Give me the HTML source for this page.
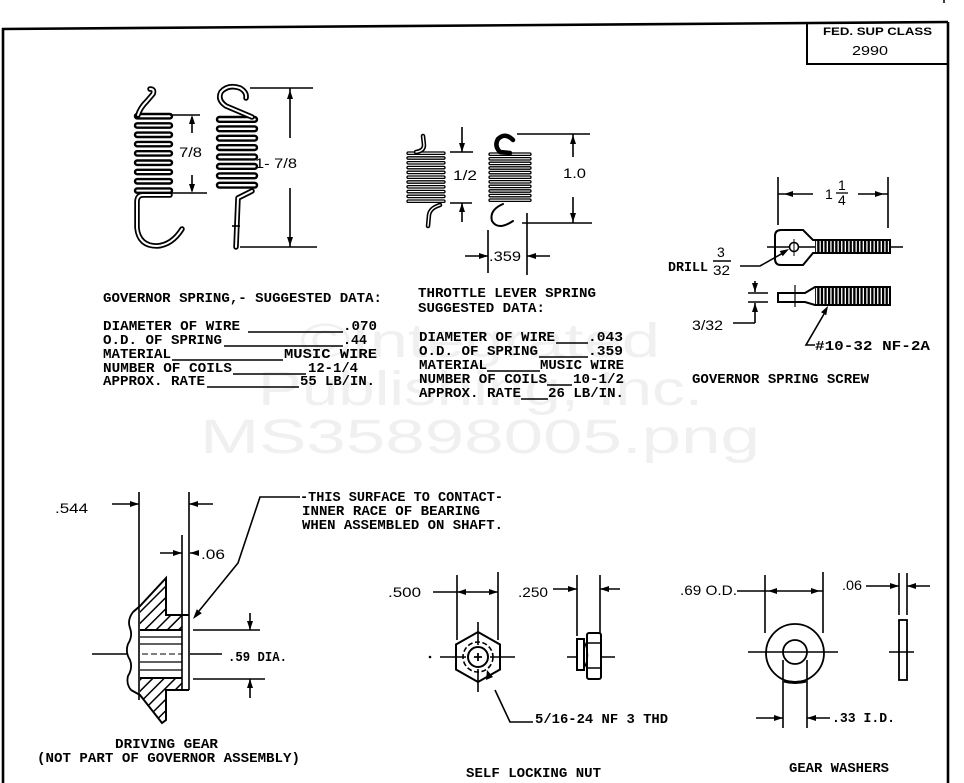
<!DOCTYPE html>
<html><head><meta charset="utf-8"><style>
html,body{margin:0;padding:0;background:#fff}
svg{display:block}
.m{font-family:"Liberation Mono",monospace;font-weight:bold;font-size:14px;fill:#000}
.s{font-family:"Liberation Sans",sans-serif;font-size:14px;fill:#000}
.w{font-family:"Liberation Sans",sans-serif;font-size:48px;fill:#f0f0f0}
</style></head><body>
<svg width="964" height="783" viewBox="0 0 964 783" xmlns="http://www.w3.org/2000/svg">
<defs>
<pattern id="hatch" width="8" height="8" patternUnits="userSpaceOnUse" patternTransform="rotate(-45)"><rect x="0" y="3" width="8" height="1.5" fill="#000"/></pattern>
<pattern id="thr" width="3.6" height="40" patternUnits="userSpaceOnUse"><rect x="0" y="0" width="2.3" height="40" fill="#000"/></pattern>
</defs>
<rect width="964" height="783" fill="#fff"/>

<!-- watermark -->
<text class="w" x="300" y="357" textLength="360" lengthAdjust="spacingAndGlyphs">©Integrated</text>
<text class="w" x="258" y="405" textLength="445" lengthAdjust="spacingAndGlyphs">Publishing, Inc.</text>
<text class="w" x="200" y="453" textLength="560" lengthAdjust="spacingAndGlyphs">MS35898005.png</text>

<!-- border -->
<g stroke="#000" fill="none">
<path d="M2,29 L948,22" stroke-width="2.6"/>
<path d="M3,28 V783" stroke-width="2.6"/>
<path d="M948,22 V783" stroke-width="2.6"/>
<path d="M807,23 V64 H948" stroke-width="2"/>
<path d="M944,0 V3" stroke-width="1.5"/>
</g>
<text x="823" y="35" font-family="Liberation Sans,sans-serif" font-weight="bold" font-size="11" textLength="109" lengthAdjust="spacingAndGlyphs">FED. SUP CLASS</text>
<text x="852" y="55" font-family="Liberation Sans,sans-serif" font-size="13" textLength="36" lengthAdjust="spacingAndGlyphs">2990</text>

<!-- ===== GOVERNOR SPRINGS ===== -->
<g stroke="#000" fill="#fff" stroke-width="2.4">
<rect x="135" y="114" width="37" height="4.4" rx="2.2"/>
<rect x="135" y="123.3" width="37" height="4.4" rx="2.2"/>
<rect x="135" y="132.6" width="37" height="4.4" rx="2.2"/>
<rect x="135" y="141.9" width="37" height="4.4" rx="2.2"/>
<rect x="135" y="151.2" width="37" height="4.4" rx="2.2"/>
<rect x="135" y="160.5" width="37" height="4.4" rx="2.2"/>
<rect x="135" y="169.8" width="37" height="4.4" rx="2.2"/>
<rect x="135" y="179.1" width="37" height="4.4" rx="2.2"/>
<rect x="135" y="188.4" width="37" height="4.4" rx="2.2"/>

<rect x="217" y="117" width="40" height="4.8" rx="2.4"/>
<rect x="217" y="126.4" width="40" height="4.8" rx="2.4"/>
<rect x="217" y="135.8" width="40" height="4.8" rx="2.4"/>
<rect x="217" y="145.2" width="40" height="4.8" rx="2.4"/>
<rect x="217" y="154.6" width="40" height="4.8" rx="2.4"/>
<rect x="217" y="164" width="40" height="4.8" rx="2.4"/>
<rect x="217" y="173.4" width="40" height="4.8" rx="2.4"/>
<rect x="217" y="182.8" width="40" height="4.8" rx="2.4"/>
</g>
<!-- wires (outlined) -->
<g fill="none" stroke-linecap="round" stroke-linejoin="round">
<g stroke="#000" stroke-width="5.5">
<path d="M138,115 Q140,108 147,101 L153,94 Q155,89 150,89"/>
<path d="M170,195 L143,195 Q137,195 137,202 L137,228 Q139,246 157,246 Q172,245 182,229"/>
<path d="M252,117 L226,106 Q217,100 221,92 Q228,84 240,88 Q247,92 246,98"/>
<path d="M252,191 L238,198 L236,247"/>
</g>
<g stroke="#fff" stroke-width="2">
<path d="M138,115 Q140,108 147,101 L153,94 Q155,89 150,89"/>
<path d="M170,195 L143,195 Q137,195 137,202 L137,228 Q139,246 157,246 Q172,245 182,229"/>
<path d="M252,117 L226,106 Q217,100 221,92 Q228,84 240,88 Q247,92 246,98"/>
<path d="M252,191 L238,198 L236,247"/>
</g>
</g>
<g stroke="#000" fill="none" stroke-width="1.6">
<path d="M170,115 H200 M170,193 H207 M192,117 V133 M192,175 V191"/>
<path d="M250,88 H313 M240,247 H317 M290,88 V138 M290,188 V247"/>
<path d="M232,226 H240"/>
</g>
<g fill="#000">
<polygon points="192,115 189,124 195,124"/>
<polygon points="192,193 189,184 195,184"/>
<polygon points="290,90 287,99 293,99"/>
<polygon points="290,246 287,237 293,237"/>
</g>
<text class="s" x="179" y="157" textLength="23" lengthAdjust="spacingAndGlyphs">7/8</text>
<text class="s" x="255" y="168" textLength="42" lengthAdjust="spacingAndGlyphs">1- 7/8</text>

<!-- governor text -->
<text class="m" x="103" y="302" textLength="279" lengthAdjust="spacingAndGlyphs">GOVERNOR SPRING,- SUGGESTED DATA:</text>
<text class="m" x="103" y="330" textLength="137" lengthAdjust="spacingAndGlyphs">DIAMETER OF WIRE</text>
<text class="m" x="343" y="330" textLength="34" lengthAdjust="spacingAndGlyphs">.070</text>
<text class="m" x="103" y="344" textLength="119" lengthAdjust="spacingAndGlyphs">O.D. OF SPRING</text>
<text class="m" x="343" y="344" textLength="24" lengthAdjust="spacingAndGlyphs">.44</text>
<text class="m" x="103" y="358" textLength="68" lengthAdjust="spacingAndGlyphs">MATERIAL</text>
<text class="m" x="284" y="358" textLength="93" lengthAdjust="spacingAndGlyphs">MUSIC  WIRE</text>
<text class="m" x="103" y="372" textLength="129" lengthAdjust="spacingAndGlyphs">NUMBER OF COILS</text>
<text class="m" x="308" y="372" textLength="50" lengthAdjust="spacingAndGlyphs">12-1/4</text>
<text class="m" x="103" y="385" textLength="102" lengthAdjust="spacingAndGlyphs">APPROX. RATE</text>
<text class="m" x="300" y="385" textLength="75" lengthAdjust="spacingAndGlyphs">55 LB/IN.</text>
<g stroke="#000" stroke-width="1.4">
<path d="M248,332 H343 M224,346 H343 M172,360 H283 M233,374 H306 M207,387 H299"/>
</g>

<!-- ===== THROTTLE SPRINGS ===== -->
<g stroke="#000" fill="#fff" stroke-width="1.3">
<rect x="407" y="152" width="38" height="2.4" rx="1.2"/>
<rect x="407" y="156.8" width="38" height="2.4" rx="1.2"/>
<rect x="407" y="161.6" width="38" height="2.4" rx="1.2"/>
<rect x="407" y="166.4" width="38" height="2.4" rx="1.2"/>
<rect x="407" y="171.2" width="38" height="2.4" rx="1.2"/>
<rect x="407" y="176" width="38" height="2.4" rx="1.2"/>
<rect x="407" y="180.8" width="38" height="2.4" rx="1.2"/>
<rect x="407" y="185.6" width="38" height="2.4" rx="1.2"/>
<rect x="407" y="190.4" width="38" height="2.4" rx="1.2"/>
<rect x="407" y="195.2" width="38" height="2.4" rx="1.2"/>
<rect x="407" y="200" width="38" height="2.4" rx="1.2"/>

<rect x="489" y="153" width="42" height="2.4" rx="1.2"/>
<rect x="489" y="157.6" width="42" height="2.4" rx="1.2"/>
<rect x="489" y="162.2" width="42" height="2.4" rx="1.2"/>
<rect x="489" y="166.8" width="42" height="2.4" rx="1.2"/>
<rect x="489" y="171.4" width="42" height="2.4" rx="1.2"/>
<rect x="489" y="176" width="42" height="2.4" rx="1.2"/>
<rect x="489" y="180.6" width="42" height="2.4" rx="1.2"/>
<rect x="489" y="185.2" width="42" height="2.4" rx="1.2"/>
<rect x="489" y="189.8" width="42" height="2.4" rx="1.2"/>
<rect x="489" y="194.4" width="42" height="2.4" rx="1.2"/>
<rect x="489" y="199" width="42" height="2.4" rx="1.2"/>
</g>
<g fill="none" stroke-linecap="round" stroke-linejoin="round">
<g stroke="#000" stroke-width="4.5">
<path d="M416,152 Q424,151 424,145 L423,136"/>
<path d="M440,205 Q430,208 429,215 L428,226"/>
<path d="M513,140 Q505,132 498,139 Q494,146 500,152 L510,153"/>
</g>
<g stroke="#fff" stroke-width="1.4">
<path d="M416,152 Q424,151 424,145 L423,136"/>
<path d="M440,205 Q430,208 429,215 L428,226"/>
</g>
<path d="M503,204 Q489,210 492,221 Q498,231 513,221" stroke="#000" stroke-width="2"/>
</g>
<g stroke="#000" fill="none" stroke-width="1.6">
<path d="M462,127 V152 M450,152 H473 M450,203 H472 M462,203 V222"/>
<path d="M517,134 H590 M522,223 H592 M573,134 V157 M573,197 V223"/>
<path d="M488,230 V273 M527,213 V275 M465,256 H488 M527,256 H550"/>
</g>
<g fill="#000">
<polygon points="462,152 459,143 465,143"/>
<polygon points="462,203 459,212 465,212"/>
<polygon points="573,135 570,144 576,144"/>
<polygon points="573,222 570,213 576,213"/>
<polygon points="488,256 479,253 479,259"/>
<polygon points="527,256 536,253 536,259"/>
</g>
<text class="s" x="453" y="180" textLength="24" lengthAdjust="spacingAndGlyphs">1/2</text>
<text class="s" x="563" y="178" textLength="23" lengthAdjust="spacingAndGlyphs">1.0</text>
<text class="s" x="489" y="261" textLength="32" lengthAdjust="spacingAndGlyphs">.359</text>

<text class="m" x="418" y="297" textLength="178" lengthAdjust="spacingAndGlyphs">THROTTLE LEVER SPRING</text>
<text class="m" x="418" y="312" textLength="127" lengthAdjust="spacingAndGlyphs">SUGGESTED DATA:</text>
<text class="m" x="419" y="341" textLength="136" lengthAdjust="spacingAndGlyphs">DIAMETER OF WIRE</text>
<text class="m" x="588" y="341" textLength="35" lengthAdjust="spacingAndGlyphs">.043</text>
<text class="m" x="419" y="355" textLength="119" lengthAdjust="spacingAndGlyphs">O.D. OF SPRING</text>
<text class="m" x="588" y="355" textLength="35" lengthAdjust="spacingAndGlyphs">.359</text>
<text class="m" x="419" y="369" textLength="68" lengthAdjust="spacingAndGlyphs">MATERIAL</text>
<text class="m" x="540" y="369" textLength="84" lengthAdjust="spacingAndGlyphs">MUSIC WIRE</text>
<text class="m" x="419" y="383" textLength="128" lengthAdjust="spacingAndGlyphs">NUMBER OF COILS</text>
<text class="m" x="573" y="383" textLength="51" lengthAdjust="spacingAndGlyphs">10-1/2</text>
<text class="m" x="419" y="397" textLength="102" lengthAdjust="spacingAndGlyphs">APPROX. RATE</text>
<text class="m" x="548" y="397" textLength="76" lengthAdjust="spacingAndGlyphs">26 LB/IN.</text>
<g stroke="#000" stroke-width="1.4">
<path d="M556,343 H588 M539,357 H588 M487,371 H540 M547,385 H572 M521,399 H548"/>
</g>

<!-- ===== GOVERNOR SPRING SCREW ===== -->
<g stroke="#000" fill="none" stroke-width="1.6">
<path d="M778,177 V225 M888,177 V228"/>
<path d="M778,194 H813 M858,194 H888"/>
<path d="M781,230 L803,230 L813,240 L890,240 L890,253 L813,253 L803,265 L781,265 Q775,265 775,259 L775,236 Q775,230 781,230 Z" stroke-width="2"/>
<path d="M767,247 H790 M798,247 H815 M890,247 H903"/>
<circle cx="794" cy="247" r="4.5"/>
<path d="M794,239 V256" stroke-width="1"/>
<path d="M740,266 L760,266 L783,253"/>
<path d="M778,293 L805,293 L815,287 L890,287 L890,305 L815,305 L805,302 L778,302 Z" stroke-width="2"/>
<path d="M795,285 V307" stroke-width="1.2"/>
<path d="M748,293 H768 M748,302 H768 M755,281 V292 M755,303 V323 M733,323 H755"/>
<path d="M815,345 L806,345 L824,314"/>
</g>
<rect x="815" y="240" width="75" height="13" fill="url(#thr)"/>
<rect x="815" y="287" width="75" height="18" fill="url(#thr)"/>
<g fill="#000">
<polygon points="784,194 793,191 793,197"/>
<polygon points="884,194 875,191 875,197"/>
<polygon points="789,249 782.7,256.2 779.7,251"/>
<polygon points="755,292 752,283 758,283"/>
<polygon points="755,303 752,312 758,312"/>
<polygon points="828,306 826.2,315.3 821,312.3"/>
</g>
<text class="s" x="825" y="199" font-size="13">1</text>
<text class="s" x="838" y="190" font-size="12">1</text>
<path d="M836,193 H848" stroke="#000" stroke-width="1.3"/>
<text class="s" x="838" y="205" font-size="12">4</text>
<text class="m" x="668" y="271" textLength="40" lengthAdjust="spacingAndGlyphs">DRILL</text>
<text class="s" x="717" y="257" font-size="14">3</text>
<path d="M713,261 H731" stroke="#000" stroke-width="1.4"/>
<text class="s" x="713" y="275" textLength="17" lengthAdjust="spacingAndGlyphs">32</text>
<text class="s" x="692" y="330" textLength="31" lengthAdjust="spacingAndGlyphs">3/32</text>
<text class="m" x="815" y="350" textLength="115" lengthAdjust="spacingAndGlyphs">#10-32 NF-2A</text>
<text class="m" x="692" y="383" textLength="177" lengthAdjust="spacingAndGlyphs">GOVERNOR SPRING SCREW</text>

<!-- ===== DRIVING GEAR ===== -->
<path d="M140,604 L166,578 L166,615 L182,615 L182,630 L140,630 Z" fill="url(#hatch)"/>
<path d="M140,678 L182,678 L182,690 L166,690 L166,720 L162,723 L140,695 Z" fill="url(#hatch)"/>
<g stroke="#000" fill="none" stroke-width="1.6">
<path d="M139,492 V700 M189,492 V690 M182,535 V690"/>
<path d="M133,612 L140,606 L166,578 L166,615 L189,615" stroke-width="2"/>
<path d="M131,690 L140,695 L162,723 L166,720 L166,690 L189,690" stroke-width="2"/>
<path d="M133,612 Q127,620 130,628 Q133,636 128,644 Q125,652 130,660 Q133,668 128,676 Q126,684 131,690" stroke-width="1.8"/>
<path d="M140,630 H182 M140,678 H182" stroke-width="2"/>
<path d="M140,637 H182 M140,644 H182 M140,662 H182 M140,670 H182" stroke-width="1.2"/>
<path d="M92,654 H128 M190,654 H222"/>
<path d="M142,654 H182" stroke-dasharray="6 3" stroke-width="1.1"/>
<path d="M112,504 H139 M189,504 H213 M160,553 H182 M190,553 H199"/>
<path d="M300,497 L260,497 L238,563 L199,611"/>
<path d="M193,630 H260 M193,679 H265 M250,613 V630 M250,679 V698"/>
</g>
<g fill="#000">
<polygon points="139,504 130,501 130,507"/>
<polygon points="189,504 198,501 198,507"/>
<polygon points="182,553 173,550 173,556"/>
<polygon points="190,553 199,550 199,556"/>
<polygon points="193,619 201.8,613.2 196.8,609.2"/>
<polygon points="250,630 247,621 253,621"/>
<polygon points="250,679 247,688 253,688"/>
</g>
<text class="s" x="55" y="513" font-size="13" textLength="33" lengthAdjust="spacingAndGlyphs">.544</text>
<text class="s" x="201" y="559" font-size="13" textLength="24" lengthAdjust="spacingAndGlyphs">.06</text>
<text class="m" x="228" y="661" font-size="13" textLength="59" lengthAdjust="spacingAndGlyphs">.59 DIA.</text>
<text class="m" x="300" y="501" font-size="13" textLength="203" lengthAdjust="spacingAndGlyphs">-THIS SURFACE TO CONTACT-</text>
<text class="m" x="302" y="515" font-size="13" textLength="178" lengthAdjust="spacingAndGlyphs">INNER RACE OF BEARING</text>
<text class="m" x="302" y="529" font-size="13" textLength="201" lengthAdjust="spacingAndGlyphs">WHEN ASSEMBLED ON SHAFT.</text>
<text class="m" x="115" y="748" textLength="103" lengthAdjust="spacingAndGlyphs">DRIVING GEAR</text>
<text class="m" x="37" y="762" textLength="263" lengthAdjust="spacingAndGlyphs">(NOT PART OF GOVERNOR ASSEMBLY)</text>
<text class="m" x="37" y="792" textLength="134" lengthAdjust="spacingAndGlyphs">GEAR SPRING DATA</text>

<!-- ===== SELF LOCKING NUT ===== -->
<g stroke="#000" fill="none" stroke-width="1.6">
<path d="M433,592 H498 M457,575 V640 M498,572 V640"/>
<polygon points="478,632 500,644.5 500,669.5 478,682 456,669.5 456,644.5" stroke-width="2"/>
<circle cx="478" cy="657" r="15" stroke-dasharray="5 2.5"/>
<circle cx="478" cy="657" r="10" stroke-width="2"/>
<path d="M474,657 H482 M478,653 V661" stroke-width="1.8"/>
<path d="M440,657 H466 M490,657 H515 M478,622 V645 M478,669 V692"/>
<path d="M495,690 L510,722 L533,722"/>
<path d="M577,575 V636 M600,575 V633 M553,589 H577 M600,589 H620"/>
<rect x="577" y="639" width="7" height="31" stroke-width="2"/>
<path d="M584,641 Q591,656 584,668" stroke-width="1.4"/>
<rect x="587" y="633" width="14" height="46" rx="2" stroke-width="2"/>
<path d="M587,643 H601 M587,668 H601" stroke-width="1.4"/>
<path d="M567,657 H577 M601,657 H615"/>
</g>
<circle cx="430" cy="657" r="1.3" fill="#000"/>
<g fill="#000">
<polygon points="457,592 466,589 466,595"/>
<polygon points="498,592 489,589 489,595"/>
<polygon points="577,589 568,586 568,592"/>
<polygon points="600,589 609,586 609,592"/>
<polygon points="487,670 486,680 493,677"/>
</g>
<text class="s" x="388" y="597" font-size="13" textLength="33" lengthAdjust="spacingAndGlyphs">.500</text>
<text class="s" x="518" y="597" font-size="13" textLength="30" lengthAdjust="spacingAndGlyphs">.250</text>
<text class="m" x="535" y="723" textLength="133" lengthAdjust="spacingAndGlyphs">5/16-24 NF 3 THD</text>
<text class="m" x="466" y="777" textLength="135" lengthAdjust="spacingAndGlyphs">SELF LOCKING NUT</text>

<!-- ===== GEAR WASHERS ===== -->
<g stroke="#000" fill="none" stroke-width="1.6">
<path d="M737,591 H823 M765,575 V633 M823,572 V633"/>
<circle cx="795" cy="653" r="29" stroke-width="1.8"/>
<circle cx="795" cy="652" r="12" stroke-width="1.8"/>
<path d="M748,652 H838"/>
<path d="M783,660 V728 M807,660 V728"/>
<path d="M756,718 H783 M807,718 H830"/>
<path d="M866,586 H899 M907,586 H930 M899,573 V615 M907,573 V615"/>
<rect x="899" y="620" width="8" height="60" stroke-width="1.8"/>
<path d="M889,652 H914"/>
</g>
<path d="M784,681 Q795,684 806,681" stroke="#000" stroke-width="3" fill="none"/>
<g fill="#000">
<polygon points="768,591 777,588 777,594"/>
<polygon points="820,591 811,588 811,594"/>
<polygon points="783,718 774,715 774,721"/>
<polygon points="807,718 816,715 816,721"/>
<polygon points="899,586 890,583 890,589"/>
<polygon points="907,586 916,583 916,589"/>
</g>
<text class="s" x="680" y="595" font-size="13" textLength="57" lengthAdjust="spacingAndGlyphs">.69 O.D.</text>
<text class="s" x="842" y="590" font-size="13" textLength="20" lengthAdjust="spacingAndGlyphs">.06</text>
<text class="m" x="832" y="722" textLength="63" lengthAdjust="spacingAndGlyphs">.33 I.D.</text>
<text class="m" x="789" y="772" textLength="100" lengthAdjust="spacingAndGlyphs">GEAR WASHERS</text>
</svg>
</body></html>
